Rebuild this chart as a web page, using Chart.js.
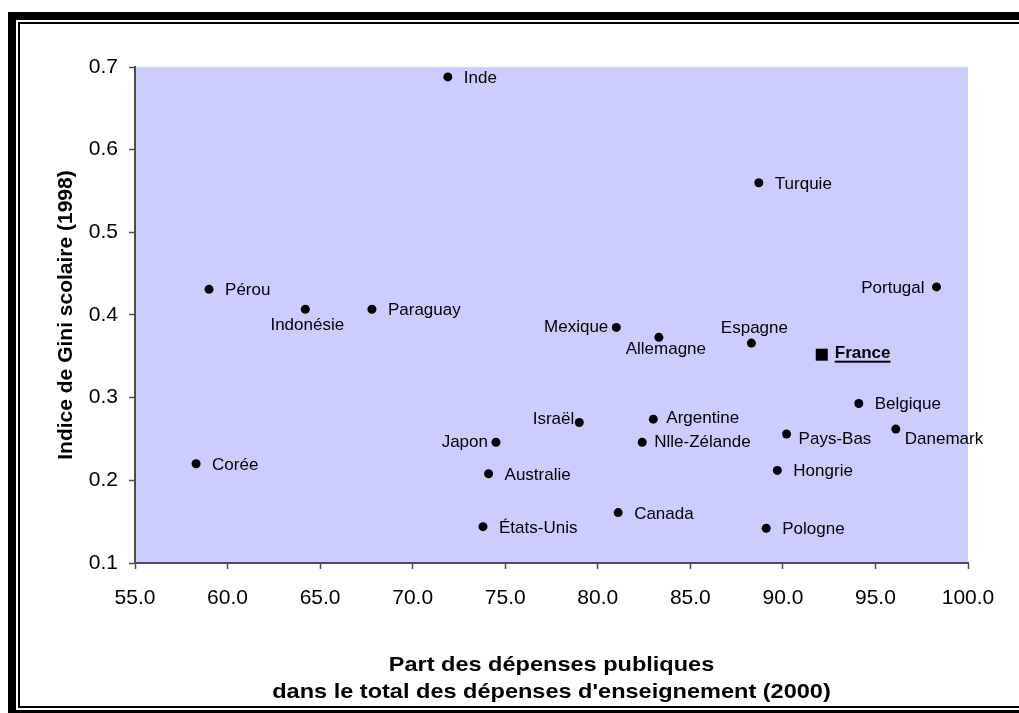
<!DOCTYPE html>
<html lang="fr">
<head>
<meta charset="utf-8">
<title>Indice de Gini scolaire et part des dépenses publiques</title>
<script src="https://cdn.jsdelivr.net/npm/chart.js@4.4.1/dist/chart.umd.min.js"></script>
<style>
    html, body { margin: 0; padding: 0; background: #fff; overflow: hidden; }
    #wrap { position: relative; width: 1019px; height: 713px; }
</style>
</head>
<body>
<div id="wrap"><canvas id="giniChart"></canvas></div>
<script>

// Data
const countries = ['Inde', 'Turquie', 'Pérou', 'Indonésie', 'Paraguay', 'Portugal', 'Mexique',
    'Allemagne', 'Espagne', 'France', 'Belgique', 'Israël', 'Argentine', 'Nlle-Zélande',
    'Pays-Bas', 'Danemark', 'Japon', 'Corée', 'Hongrie', 'Australie', 'Canada', 'États-Unis', 'Pologne'];
const publicShare = [71.9, 88.7, 59.0, 64.2, 67.8, 98.3, 81.0,
    83.3, 88.3, 92.1, 94.1, 79.0, 83.0, 82.4,
    90.2, 96.1, 74.5, 58.3, 89.7, 74.1, 81.1, 73.8, 89.1];
const giniIndex = [0.688, 0.560, 0.431, 0.407, 0.407, 0.434, 0.385,
    0.373, 0.366, 0.352, 0.293, 0.270, 0.274, 0.246,
    0.256, 0.262, 0.246, 0.220, 0.212, 0.208, 0.161, 0.144, 0.142];
const xTitleLines = ['Part des dépenses publiques', 'dans le total des dépenses d\'enseignement (2000)'];
const yTitle = 'Indice de Gini scolaire (1998)';
const highlighted = 'France';

// label placement relative to the point: [dx, dy (baseline), align]
const labelPlacement = {
    'Indonésie': [2, 21, 'center'],
    'Mexique': [-8, 5, 'right'],
    'Allemagne': [7, 17, 'center'],
    'Espagne': [3, -10, 'center'],
    'France': [13, 3, 'left'],
    'Israël': [-5, 2, 'right'],
    'Argentine': [13, 4, 'left'],
    'Nlle-Zélande': [12, 5, 'left'],
    'Pays-Bas': [12, 10, 'left'],
    'Danemark': [9, 15, 'left'],
    'Japon': [-8, 5, 'right'],
    'Portugal': [-12, 6, 'right']
};
const defaultPlacement = [16, 6, 'left'];

const FONT = '"Liberation Sans", Arial, sans-serif';
const axisGrey = '#4d4d4d';

Chart.defaults.font.family = FONT;
Chart.defaults.color = '#000';

const plotBackground = {
    id: 'plotBackground',
    beforeDraw(chart) {
        const { ctx, chartArea: a } = chart;
        ctx.save();
        ctx.fillStyle = '#CCCCFF';
        ctx.fillRect(a.left, a.top, a.right - a.left, a.bottom - a.top);
        ctx.restore();
    }
};

const pointLabels = {
    id: 'pointLabels',
    afterDatasetsDraw(chart) {
        const { ctx } = chart;
        const meta = chart.getDatasetMeta(0);
        ctx.save();
        ctx.fillStyle = '#000';
        ctx.textBaseline = 'alphabetic';
        meta.data.forEach((pt, i) => {
            const name = countries[i];
            const [dx, dy, align] = labelPlacement[name] || defaultPlacement;
            const bold = name === highlighted;
            ctx.font = (bold ? 'bold ' : '') + '17px ' + FONT;
            ctx.textAlign = align;
            const tx = pt.x + dx, ty = pt.y + dy;
            ctx.fillText(name, tx, ty);
            if (bold) {
                const w = ctx.measureText(name).width;
                ctx.fillRect(tx, ty + 3, w, 2);
            }
        });
        ctx.restore();
    }
};

// axis titles drawn by hand: the x title is a little wider than the plain font
const axisTitles = {
    id: 'axisTitles',
    afterDraw(chart) {
        const { ctx, chartArea: a } = chart;
        const cx = (a.left + a.right) / 2;
        ctx.save();
        ctx.fillStyle = '#000';
        ctx.font = 'bold 21px ' + FONT;
        ctx.textAlign = 'center';
        ctx.textBaseline = 'alphabetic';
        xTitleLines.forEach((line, i) => {
            ctx.save();
            ctx.translate(cx, a.bottom + 108 + i * 27);
            ctx.scale(1.12, 1);
            ctx.fillText(line, 0, 0);
            ctx.restore();
        });
        ctx.translate(66, (a.top + a.bottom) / 2);
        ctx.rotate(-Math.PI / 2);
        ctx.textBaseline = 'middle';
        ctx.fillText(yTitle, 0, 0);
        ctx.restore();
    }
};

const frame = {
    id: 'frame',
    afterDraw(chart) {
        const { ctx, width, height } = chart;
        ctx.save();
        ctx.fillStyle = '#000';
        ctx.fillRect(8, 12, width - 8, 8);
        ctx.fillRect(18, 22, width - 18, 2);
        ctx.fillRect(8, 12, 8, height - 12);
        ctx.fillRect(18, 22, 2, height - 27);
        ctx.fillRect(18, height - 7, width - 18, 2);
        ctx.fillRect(8, height - 3, width - 8, 3);
        ctx.restore();
    }
};

function createChart() {
    const ctx = document.getElementById('giniChart');

    new Chart(ctx, {
        type: 'scatter',
        data: {
            datasets: [{
                label: 'Pays',
                data: countries.map((c, i) => ({ x: publicShare[i], y: giniIndex[i] })),
                backgroundColor: '#000',
                borderColor: '#000',
                borderWidth: 0,
                pointStyle: c => countries[c.dataIndex] === highlighted ? 'rect' : 'circle',
                pointRadius: c => countries[c.dataIndex] === highlighted ? 8.5 : 4.5
            }]
        },
        options: {
            responsive: true,
            maintainAspectRatio: false,
            animation: false,
            layout: {
                padding: { top: 67, right: 51, left: 0, bottom: 0 }
            },
            plugins: {
                legend: { display: false },
                tooltip: { enabled: false }
            },
            scales: {
                x: {
                    type: 'linear',
                    min: 55,
                    max: 100,
                    afterFit: s => { s.height = 150; },
                    ticks: {
                        stepSize: 5,
                        font: { size: 21 },
                        color: '#000',
                        padding: 17,
                        maxRotation: 0,
                        callback: v => v.toFixed(1)
                    },
                    grid: {
                        drawOnChartArea: false,
                        drawTicks: true,
                        tickLength: 6,
                        tickColor: axisGrey,
                        tickWidth: 1.5
                    },
                    border: { display: true, color: axisGrey, width: 2 }
                },
                y: {
                    type: 'linear',
                    min: 0.1,
                    max: 0.7,
                    afterFit: s => { s.width = 135; },
                    ticks: {
                        stepSize: 0.1,
                        font: { size: 21 },
                        color: '#000',
                        padding: 11,
                        callback: v => v.toFixed(1)
                    },
                    grid: {
                        drawOnChartArea: false,
                        drawTicks: true,
                        tickLength: 6,
                        tickColor: axisGrey,
                        tickWidth: 1.5
                    },
                    border: { display: true, color: axisGrey, width: 2 }
                }
            }
        },
        plugins: [plotBackground, pointLabels, axisTitles, frame]
    });
}

if (document.readyState === 'loading') {
    document.addEventListener('DOMContentLoaded', createChart);
} else {
    createChart();
}
</script>
</body>
</html>
